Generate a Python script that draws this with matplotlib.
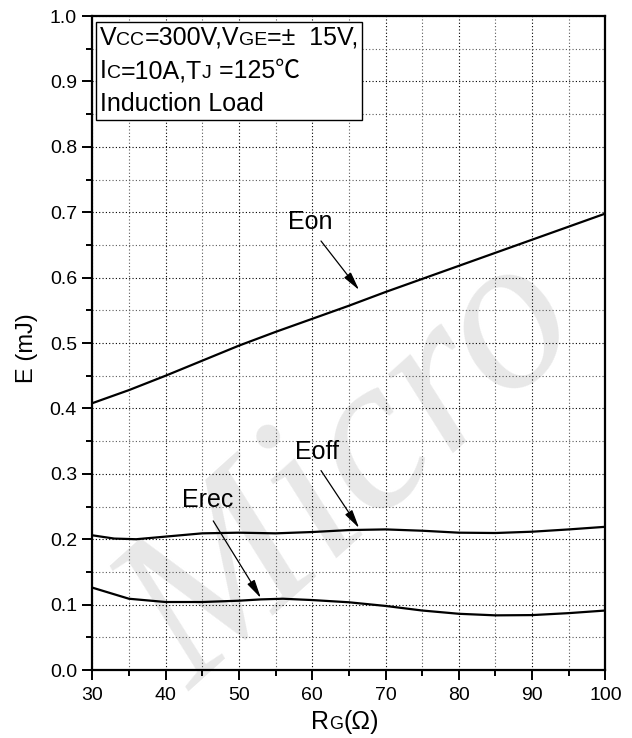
import matplotlib
matplotlib.use('Agg')
import matplotlib.pyplot as plt
from matplotlib.offsetbox import TextArea, HPacker, VPacker, AnchoredOffsetbox, AnnotationBbox
from matplotlib.ticker import MultipleLocator

plt.rcParams['font.family'] = ['Liberation Sans', 'DejaVu Sans']

# curves
rg_on = [30, 35, 40, 45, 50, 55, 60, 65, 70, 75, 80, 85, 90, 95, 100]
e_on = [0.408, 0.428, 0.450, 0.473, 0.496, 0.517, 0.537, 0.557, 0.578, 0.598, 0.618, 0.638, 0.658, 0.678, 0.698]

rg_off = [30, 33, 36, 40, 45, 50, 55, 60, 65, 70, 75, 80, 85, 90, 95, 100]
e_off = [0.206, 0.201, 0.200, 0.204, 0.209, 0.210, 0.209, 0.211, 0.214, 0.215, 0.213, 0.210, 0.2095, 0.2115, 0.215, 0.219]

rg_rec = [30, 35, 40, 45, 50, 53, 56, 60, 65, 70, 75, 80, 85, 90, 95, 100]
e_rec = [0.126, 0.109, 0.104, 0.104, 0.106, 0.108, 0.109, 0.107, 0.1036, 0.098, 0.091, 0.086, 0.0836, 0.084, 0.087, 0.091]

# label text position, arrow tail, arrow head
labels = {
    'Eon': [(59.8, 0.685), (61.2, 0.656), (66.4, 0.581)],
    'Eoff': [(60.7, 0.333), (61.2, 0.305), (66.4, 0.217)],
    'Erec': [(45.7, 0.260), (46.5, 0.228), (53.0, 0.110)],
}

fig = plt.figure(figsize=(6.32, 7.38), dpi=100)
ax = fig.add_axes([0.146, 0.0921, 0.812, 0.8862])
ax.patch.set_alpha(0)

# watermark
fig.text(0.56, 0.36, 'Micro', family='Liberation Serif', style='italic',
         fontsize=160, color='#e8e8e8', rotation=42, ha='center', va='center', zorder=-5)

ax.plot(rg_on, e_on, color='k', lw=1.6)
ax.plot(rg_off, e_off, color='k', lw=1.6)
ax.plot(rg_rec, e_rec, color='k', lw=1.6)

for name, (txt, tail, head) in labels.items():
    ax.text(txt[0], txt[1], name, fontsize=18, ha='center', va='center')
    ax.annotate('', xy=head, xytext=tail,
                arrowprops=dict(arrowstyle='-|>,head_length=0.75,head_width=0.17',
                                mutation_scale=15, color='k', lw=0.9,
                                shrinkA=0, shrinkB=0))

ax.set_xlim(30, 100)
ax.set_ylim(0, 1.0)
ax.xaxis.set_major_locator(MultipleLocator(10))
ax.xaxis.set_minor_locator(MultipleLocator(5))
ax.yaxis.set_major_locator(MultipleLocator(0.1))
ax.yaxis.set_minor_locator(MultipleLocator(0.05))
ax.yaxis.set_major_formatter(plt.FormatStrFormatter('%.1f'))
ax.grid(which='major', color='k', ls=(0, (1, 2)), lw=0.8)
ax.grid(which='minor', color='0.35', ls=(0, (1, 2)), lw=0.8)
ax.tick_params(which='major', direction='out', length=7.5, width=1.4, labelsize=14)
ax.tick_params(axis='x', which='major', pad=5)
ax.tick_params(which='minor', direction='out', length=4.5, width=1.4)
for s in ax.spines.values():
    s.set_linewidth(1.6)

# condition box with small-cap subscripts
def rich(parts):
    kids = []
    for s, size, *fam in parts:
        tp = dict(size=size, color='k')
        if fam:
            tp['family'] = fam[0]
        kids.append(TextArea(s, textprops=tp))
    return HPacker(children=kids, align='baseline', pad=0, sep=0)

big, small = 18, 14
line1 = rich([('V', big), ('CC', small), ('=300V,V', big), ('GE', small), ('=\u00b1  15V,', big)])
line2 = rich([('I', big), ('C', small), ('=10A,T', big), ('J', small), (' =125', big),
              ('\u2103', big, ['Noto Sans CJK SC', 'DejaVu Sans'])])
line3 = rich([('Induction Load', big)])
box = VPacker(children=[line1, line2, line3], align='left', pad=0, sep=6)
anch = AnchoredOffsetbox(loc='upper left', child=box, pad=0.28, borderpad=0,
                         bbox_to_anchor=(0.007, 0.991), bbox_transform=ax.transAxes,
                         frameon=True)
anch.patch.set_linewidth(1.0)
anch.patch.set_edgecolor('k')
ax.add_artist(anch)

# axis labels
xl = rich([('R', 18), ('G', 13), ('(\u03a9)', 18)])
ab = AnnotationBbox(xl, (0.492 * 0.812 + 0.146, 0.006), xycoords='figure fraction',
                    box_alignment=(0.5, 0), frameon=False, pad=0)
fig.add_artist(ab)
fig.text(0.042, 0.528, 'E (mJ)', rotation=90, fontsize=17, ha='center', va='center')

fig.savefig('out.png', dpi=100)
